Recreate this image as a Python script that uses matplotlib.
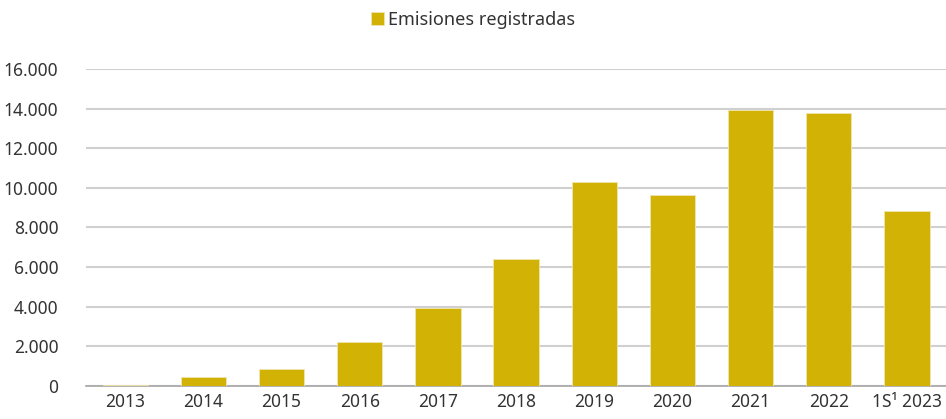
import numpy as np
import matplotlib.pyplot as plt
from matplotlib.ticker import FuncFormatter

# data
years = ['2013', '2014', '2015', '2016', '2017', '2018', '2019', '2020',
         '2021', '2022', '1S\u00b9 2023']
emisiones = [50, 460, 850, 2200, 3950, 6380, 10290, 9630, 13940, 13790, 8820]
legend_label = 'Emisiones registradas'

plt.rcParams['font.family'] = ['Noto Sans', 'DejaVu Sans']

fig = plt.figure(figsize=(9.46, 4.19), dpi=100)
ax = fig.add_axes([0.091, 0.0795, 0.909, 0.7555])

x = np.arange(len(years))
ax.bar(x, emisiones, width=0.58, color='#d1b205', edgecolor='#efe6b0',
       linewidth=0.6, label=legend_label, zorder=3)

ax.set_xlim(-0.5, len(years) - 0.5)
ax.set_ylim(0, 16000)
ax.set_yticks(np.arange(0, 16001, 2000))
ax.yaxis.set_major_formatter(FuncFormatter(lambda v, p: f'{int(v):,}'.replace(',', '.')))
ax.set_xticks(x)
ax.set_xticklabels(years)

ax.grid(axis='y', color='#d0d0d0', linewidth=1.5, zorder=0)
for s in ['top', 'right', 'left']:
    ax.spines[s].set_visible(False)
ax.spines['bottom'].set_color('#a6a6a6')
ax.spines['bottom'].set_linewidth(1.2)
ax.tick_params(axis='both', length=0, labelsize=12.5, colors='#333333')
ax.tick_params(axis='y', pad=20)
ax.tick_params(axis='x', pad=5)

fig.legend(loc='center', bbox_to_anchor=(0.5, 0.952), frameon=False,
           fontsize=13, handlelength=0.7, handleheight=0.7, handletextpad=0.2,
           labelcolor='#333333')

fig.savefig('out.png', dpi=100)
